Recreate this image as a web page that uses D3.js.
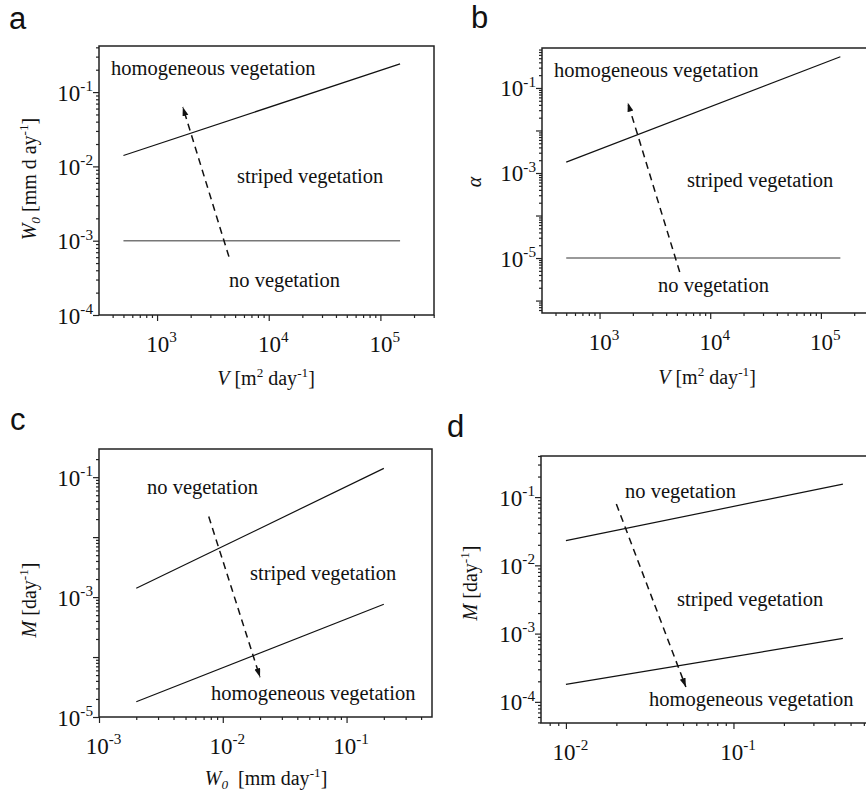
<!DOCTYPE html>
<html lang="en">
<head>
<meta charset="UTF-8">
<title>Diagrammes de phase - végétation</title>
<script src="https://cdn.jsdelivr.net/npm/d3@7"></script>
<style>
  body { margin: 0; background: #fff; }
  svg text { font-family: "Liberation Serif", "Times New Roman", serif; fill: #111; white-space: pre; }
  svg text.lettre { font-family: "Liberation Sans", Arial, sans-serif; }
</style>
</head>
<body>
<svg id="fig" width="866" height="801" xmlns="http://www.w3.org/2000/svg"></svg>
<script>
// ---- panneau a : W0 en fonction de V
const aDomX = [302, 3.02e5];
const aDomY = [1e-4, 0.417];
const aTickX = [1e3, 1e4, 1e5];
const aTickY = [1e-4, 1e-3, 1e-2, 1e-1];
const aLabelY = [1e-4, 1e-3, 1e-2, 1e-1];
const aV = [500, 1.5e5];
const aHaut = [0.014, 0.24];
const aBas = [1e-3, 1e-3];
const aFleche = [[4400, 6.1e-4], [1700, 0.063]];

// ---- panneau b : alpha en fonction de V
const bDomX = [302, 3.02e5];
const bDomY = [5.1e-7, 0.87];
const bTickX = [1e3, 1e4, 1e5];
const bTickY = [1e-6, 1e-5, 1e-4, 1e-3, 1e-2, 1e-1];
const bLabelY = [1e-5, 1e-3, 1e-1];
const bV = [500, 1.5e5];
const bHaut = [1.8e-3, 0.54];
const bBas = [1e-5, 1e-5];
const bFleche = [[5300, 4.7e-6], [1800, 0.045]];

// ---- panneau c : M en fonction de W0
const cDomX = [1e-3, 0.49];
const cDomY = [1e-5, 0.295];
const cTickX = [1e-3, 1e-2, 1e-1];
const cTickY = [1e-5, 1e-4, 1e-3, 1e-2, 1e-1];
const cLabelY = [1e-5, 1e-3, 1e-1];
const cW = [2e-3, 0.2];
const cHaut = [1.4e-3, 0.14];
const cBas = [1.8e-5, 7.6e-4];
const cFleche = [[7.7e-3, 0.022], [0.02, 4.6e-5]];

// ---- panneau d : M en fonction de W0 (autre jeu)
const dDomX = [7.1e-3, 0.69];
const dDomY = [4.9e-5, 0.4];
const dTickX = [1e-2, 1e-1];
const dTickY = [1e-4, 1e-3, 1e-2, 1e-1];
const dLabelY = [1e-4, 1e-3, 1e-2, 1e-1];
const dW = [0.01, 0.45];
const dHaut = [0.023, 0.155];
const dBas = [1.8e-4, 8.5e-4];
const dFleche = [[0.02, 0.079], [0.052, 1.65e-4]];

const svg = d3.select('#fig');
const SERIF = '"Liberation Serif", "Times New Roman", serif';

svg.append('defs').append('marker')
    .attr('id', 'pointe')
    .attr('markerUnits', 'userSpaceOnUse')
    .attr('markerWidth', 10).attr('markerHeight', 7)
    .attr('refX', 9).attr('refY', 3)
    .attr('orient', 'auto')
    .append('path')
    .attr('d', 'M0,0 L9,3 L0,6 Z')
    .attr('fill', '#111');

// texte avec exposants / indices / italique
// parts : [{t, it, sup, sub}]
function richText(el, parts, taille) {
    let decal = 0;
    el.attr('font-family', SERIF);
    parts.forEach(p => {
        let cible = p.sup ? -taille * 0.42 : (p.sub ? taille * 0.22 : 0);
        let ts = el.append('tspan')
            .attr('dy', cible - decal)
            .text(p.t);
        if (p.sup || p.sub) ts.attr('font-size', taille * 0.66);
        if (p.it) ts.attr('font-style', 'italic');
        decal = cible;
    });
}

// toutes les valeurs m x 10^k (m = 2..9) dans le domaine
function mineurs(dom) {
    let res = [];
    let k0 = Math.floor(Math.log10(dom[0])), k1 = Math.ceil(Math.log10(dom[1]));
    for (let k = k0; k <= k1; k++) {
        for (let m = 2; m <= 9; m++) {
            let v = m * Math.pow(10, k);
            if (v >= dom[0] && v <= dom[1]) res.push(v);
        }
    }
    return res;
}

function panneau(p) {
    let g = svg.append('g').attr('transform', 'translate(' + p.left + ',' + p.top + ')');
    let x = d3.scaleLog().domain(p.domX).range([0, p.w]);
    let y = d3.scaleLog().domain(p.domY).range([p.h, 0]);

    // graduations mineures
    g.append('g').attr('transform', 'translate(0,' + p.h + ')')
        .call(d3.axisBottom(x).tickValues(mineurs(p.domX)).tickSize(3).tickSizeOuter(0).tickFormat(''));
    g.append('g')
        .call(d3.axisLeft(y).tickValues(mineurs(p.domY)).tickSize(3).tickSizeOuter(0).tickFormat(''));

    // graduations majeures
    let ax = g.append('g').attr('transform', 'translate(0,' + p.h + ')')
        .call(d3.axisBottom(x).tickValues(p.tickX).tickSize(6).tickSizeOuter(0).tickFormat(''));
    let ay = g.append('g')
        .call(d3.axisLeft(y).tickValues(p.tickY).tickSize(6).tickSizeOuter(0).tickFormat(''));

    g.selectAll('.domain').remove();
    g.selectAll('.tick line').attr('stroke', '#222').attr('stroke-width', 1.2);

    // étiquettes des axes : 10^k
    ax.selectAll('.tick').each(function (d) {
        let t = d3.select(this).select('text')
            .attr('y', 37).attr('dy', 0).attr('x', 4)
            .attr('font-size', 23).attr('text-anchor', 'middle').attr('fill', '#111');
        richText(t, [{t: '10'}, {t: String(Math.round(Math.log10(d))), sup: true}], 23);
    });
    ay.selectAll('.tick').each(function (d) {
        let t = d3.select(this).select('text')
            .attr('x', -6).attr('dy', 0).attr('y', 8)
            .attr('font-size', 23).attr('text-anchor', 'end').attr('fill', '#111');
        if (p.labelY.indexOf(d) >= 0) {
            richText(t, [{t: '10'}, {t: String(Math.round(Math.log10(d))), sup: true}], 23);
        }
    });

    // cadre
    g.append('rect')
        .attr('width', p.w).attr('height', p.h)
        .attr('fill', 'none').attr('stroke', '#222').attr('stroke-width', 1.5);

    let ligne = d3.line().x(d => x(d[0])).y(d => y(d[1]));

    g.append('path')
        .attr('d', ligne(d3.zip(p.xs, p.haut)))
        .attr('fill', 'none').attr('stroke', '#111').attr('stroke-width', 1.2);
    g.append('path')
        .attr('d', ligne(d3.zip(p.xs, p.bas)))
        .attr('fill', 'none').attr('stroke', p.couleurBas).attr('stroke-width', p.largeurBas);

    g.append('path')
        .attr('d', ligne(p.fleche))
        .attr('fill', 'none').attr('stroke', '#111').attr('stroke-width', 1.5)
        .attr('stroke-dasharray', '7,5')
        .attr('marker-end', 'url(#pointe)');

    // noms des régions
    p.regions.forEach(r => {
        g.append('text').attr('x', r[1]).attr('y', r[2])
            .attr('font-family', SERIF)
            .attr('font-size', 20.5).text(r[0]);
    });

    // titres des axes
    if (p.titreX) {
        let tx = g.append('text')
            .attr('x', p.titreX.x).attr('y', p.titreX.y)
            .attr('text-anchor', 'middle').attr('font-size', 20);
        richText(tx, p.titreX.parts, 20);
    }
    let ty = svg.append('text')
        .attr('transform', 'translate(' + p.titreY.x + ',' + p.titreY.y + ') rotate(-90)')
        .attr('text-anchor', 'middle').attr('font-size', 20);
    richText(ty, p.titreY.parts, 20);

    svg.append('text').attr('class', 'lettre')
        .attr('x', p.lettre[1]).attr('y', p.lettre[2])
        .attr('font-size', 31).text(p.lettre[0]);
}

const titreV = [{t: 'V', it: true}, {t: ' [m'}, {t: '2', sup: true}, {t: ' day'}, {t: '-1', sup: true}, {t: ']'}];
const titreM = [{t: 'M', it: true}, {t: ' [day'}, {t: '-1', sup: true}, {t: ']'}];

panneau({
    left: 99, top: 46, w: 335, h: 269,
    domX: aDomX, domY: aDomY, tickX: aTickX, tickY: aTickY, labelY: aLabelY,
    xs: aV, haut: aHaut, bas: aBas, fleche: aFleche,
    couleurBas: '#777', largeurBas: 1.5,
    regions: [['homogeneous vegetation', 12, 29], ['striped vegetation', 138, 137], ['no vegetation', 130, 241]],
    titreX: {x: 167, y: 339, parts: titreV},
    titreY: {x: 36, y: 179, parts: [{t: 'W', it: true}, {t: '0', it: true, sub: true}, {t: ' [mm d ay'}, {t: '-1', sup: true}, {t: ']'}]},
    lettre: ['a', 9, 29]
});

panneau({
    left: 542, top: 48, w: 332, h: 265,
    domX: bDomX, domY: bDomY, tickX: bTickX, tickY: bTickY, labelY: bLabelY,
    xs: bV, haut: bHaut, bas: bBas, fleche: bFleche,
    couleurBas: '#777', largeurBas: 1.5,
    regions: [['homogeneous vegetation', 12, 29], ['striped vegetation', 145, 139], ['no vegetation', 116, 244]],
    titreX: {x: 165, y: 336, parts: titreV},
    titreY: {x: 481, y: 182, parts: [{t: 'α', it: true}]},
    lettre: ['b', 471, 28]
});

panneau({
    left: 99, top: 449, w: 333, h: 268,
    domX: cDomX, domY: cDomY, tickX: cTickX, tickY: cTickY, labelY: cLabelY,
    xs: cW, haut: cHaut, bas: cBas, fleche: cFleche,
    couleurBas: '#111', largeurBas: 1.2,
    regions: [['no vegetation', 48, 45], ['striped vegetation', 151, 131], ['homogeneous vegetation', 112, 251]],
    titreX: {x: 167, y: 336, parts: [{t: 'W', it: true}, {t: '0', it: true, sub: true}, {t: '  [mm day'}, {t: '-1', sup: true}, {t: ']'}]},
    titreY: {x: 36, y: 600, parts: titreM},
    lettre: ['c', 10, 430]
});

panneau({
    left: 541, top: 456, w: 333, h: 267,
    domX: dDomX, domY: dDomY, tickX: dTickX, tickY: dTickY, labelY: dLabelY,
    xs: dW, haut: dHaut, bas: dBas, fleche: dFleche,
    couleurBas: '#111', largeurBas: 1.2,
    regions: [['no vegetation', 84, 42], ['striped vegetation', 136, 150], ['homogeneous vegetation', 108, 250]],
    titreX: null,
    titreY: {x: 477, y: 583, parts: titreM},
    lettre: ['d', 447, 437]
});
</script>
</body>
</html>
